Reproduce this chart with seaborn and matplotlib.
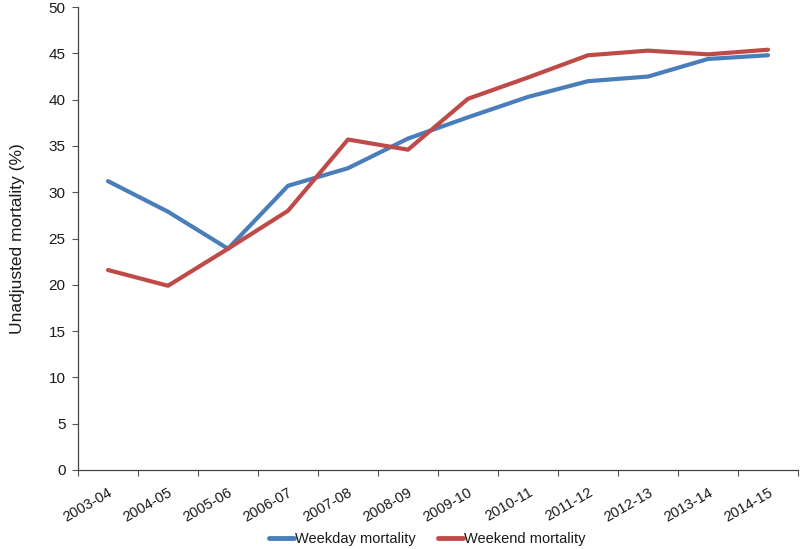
"""
Weekday vs weekend unadjusted mortality by financial year.
"""
import matplotlib
matplotlib.use("Agg")
import matplotlib.pyplot as plt
import numpy as np
import pandas as pd
import seaborn as sns
from matplotlib.ticker import FixedLocator, MultipleLocator

years = [
    "2003-04", "2004-05", "2005-06", "2006-07", "2007-08", "2008-09",
    "2009-10", "2010-11", "2011-12", "2012-13", "2013-14", "2014-15",
]
weekday = [31.2, 27.9, 23.9, 30.7, 32.6, 35.8, 38.1, 40.3, 42.0, 42.5, 44.4, 44.8]
weekend = [21.6, 19.9, 23.9, 28.0, 35.7, 34.6, 40.1, 42.4, 44.8, 45.3, 44.9, 45.4]
series_names = ["Weekday mortality", "Weekend mortality"]
colors = ["#4A7EBB", "#BE4B48"]

df = pd.DataFrame({
    "year": years * 2,
    "pos": list(range(len(years))) * 2,
    "value": weekday + weekend,
    "series": [series_names[0]] * len(years) + [series_names[1]] * len(years),
})

sns.set_style("white")
plt.rcParams["font.family"] = ["Liberation Sans", "DejaVu Sans"]
plt.rcParams["text.color"] = "#1a1a1a"
plt.rcParams["xtick.color"] = "#1a1a1a"
plt.rcParams["ytick.color"] = "#1a1a1a"
plt.rcParams["axes.labelcolor"] = "#1a1a1a"

fig = plt.figure(figsize=(8, 5.49), dpi=100)
ax = fig.add_axes([0.0975, 0.144, 0.9, 0.843])

sns.lineplot(
    data=df, x="pos", y="value", hue="series",
    palette=colors, linewidth=3, ax=ax, legend=False,
)

ax.set_xlim(-0.5, len(years) - 0.5)
ax.set_ylim(0, 50)
ax.yaxis.set_major_locator(MultipleLocator(5))

# category labels in the middle, tick marks on the boundaries
ax.set_xticks(range(len(years)))
ax.set_xticklabels(years, rotation=30, ha="right", rotation_mode="anchor")
ax.xaxis.set_minor_locator(FixedLocator(np.arange(-0.5, len(years), 1.0)))
ax.tick_params(axis="x", which="major", length=0, pad=11, labelsize=10.5)
ax.tick_params(axis="x", which="minor", length=4, width=0.8, color="#555555",
               direction="out", bottom=True)
ax.tick_params(axis="y", length=4, width=0.8, color="#555555",
               direction="out", left=True, labelsize=11, pad=5)

for side in ["top", "right"]:
    ax.spines[side].set_visible(False)
for side in ["left", "bottom"]:
    ax.spines[side].set_color("#444444")
    ax.spines[side].set_linewidth(0.9)

ax.set_xlabel("")
ax.set_ylabel("Unadjusted mortality (%)", fontsize=12.5, labelpad=17)

handles = [plt.Line2D([], [], color=c, lw=3.5) for c in colors]
fig.legend(
    handles, series_names, loc="lower center", bbox_to_anchor=(0.534, 0.0),
    ncol=2, frameon=False, handlelength=1.75, handletextpad=0.05,
    columnspacing=1.5, fontsize=10.5, borderpad=0.1, borderaxespad=0.1,
)

fig.savefig("out.png", dpi=100)
